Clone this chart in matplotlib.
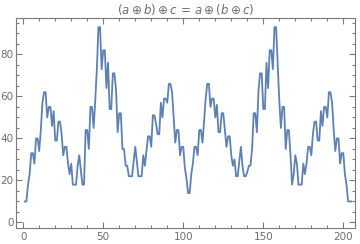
"""
line plot of the sequence, frame style with inward ticks
"""

#imports
import numpy as np
import matplotlib
matplotlib.use("Agg")
import matplotlib.pyplot as plt
from matplotlib.ticker import MultipleLocator


#data (value at n = 1, 2, 3, ...)
values = [10, 10, 18, 23, 33, 33, 28, 40, 40, 34,
          44, 57, 62, 62, 50, 55, 55, 46, 53, 39,
          39, 48, 48, 42, 32, 36, 36, 28, 23, 28,
          18, 18, 18, 27, 32, 25, 18, 18, 44, 44,
          35, 55, 55, 45, 58, 73, 93, 93, 73, 82,
          82, 64, 76, 54, 54, 71, 71, 63, 43, 52,
          52, 35, 35, 27, 27, 22, 22, 22, 29, 36,
          29, 22, 22, 22, 32, 27, 34, 41, 41, 36,
          51, 51, 47, 42, 42, 57, 50, 59, 59, 57,
          66, 66, 62, 50, 38, 44, 44, 32, 36, 36,
          26, 21, 14, 14, 23, 28, 36, 36, 32, 44,
          44, 38, 48, 59, 66, 66, 55, 59, 59, 50,
          56, 43, 43, 52, 52, 44, 36, 41, 41, 32,
          27, 30, 22, 22, 29, 36, 27, 22, 22, 24,
          27, 27, 35, 52, 52, 43, 63, 71, 71, 54,
          54, 76, 64, 82, 82, 73, 93, 93, 75, 58,
          45, 55, 55, 35, 44, 44, 32, 18, 23, 32,
          28, 18, 18, 18, 28, 23, 28, 36, 36, 32,
          42, 48, 48, 39, 39, 53, 46, 55, 55, 50,
          62, 62, 57, 44, 34, 40, 40, 28, 33, 33,
          23, 18, 10, 10, 10]
x_ticks = [0, 50, 100, 150, 200]
y_ticks = [0, 20, 40, 60, 80]
title = r"$(a\oplus b)\oplus c\, =\, a\oplus(b\oplus c)$"

n = np.arange(1, len(values) + 1)

#colours
line_col = "#5e81b5"
frame_col = "#7a7a7a"
text_col = "#6e6e6e"

plt.rcParams["mathtext.fontset"] = "dejavusans"

#figure
fig = plt.figure(figsize=(3.6, 2.44), dpi=100)
ax = fig.add_axes([0.0436, 0.0668, 0.9425, 0.8582])
ax.plot(n, values, color=line_col, lw=1.3, solid_joinstyle="round")

ax.set_xlim(-4.7, 207.3)
ax.set_ylim(-2.5, 97.2)

#ticks on all four sides pointing inwards
ax.set_xticks(x_ticks)
ax.set_yticks(y_ticks)
ax.xaxis.set_minor_locator(MultipleLocator(10))
ax.yaxis.set_minor_locator(MultipleLocator(5))
ax.tick_params(which="both", direction="in", top=True, right=True,
               color=frame_col, width=0.8, labelcolor=text_col, labelsize=7.5)
ax.tick_params(which="major", length=4)
ax.tick_params(which="minor", length=2)
ax.tick_params(axis="x", which="major", pad=3)
ax.tick_params(axis="y", which="major", pad=1.5)
for s in ax.spines.values():
    s.set_color(frame_col)
    s.set_linewidth(0.8)

ax.set_title(title, fontsize=8.5, color=text_col, pad=3)

fig.savefig("out.png", dpi=100)
